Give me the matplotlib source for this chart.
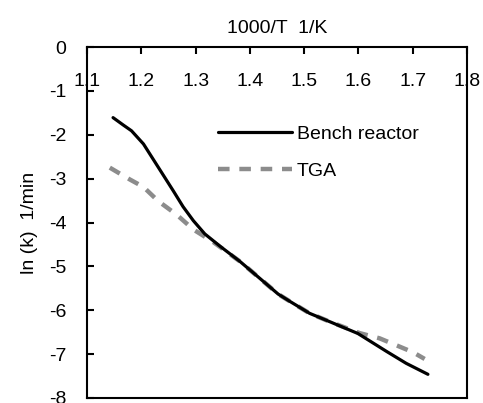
import matplotlib.pyplot as plt

plt.rcParams["font.family"] = ["Liberation Sans", "DejaVu Sans"]

# Arrhenius data: inverse temperature vs ln of rate constant
bench_x = [1.148, 1.167, 1.182, 1.204, 1.222, 1.240, 1.259, 1.277, 1.296,
           1.317, 1.345, 1.382, 1.418, 1.452, 1.474, 1.510, 1.547, 1.599,
           1.652, 1.688, 1.728]
bench_y = [-1.61, -1.78, -1.91, -2.21, -2.56, -2.91, -3.28, -3.64, -3.96,
           -4.26, -4.54, -4.89, -5.27, -5.63, -5.80, -6.07, -6.26, -6.53,
           -6.94, -7.21, -7.46]

tga_x = [1.142, 1.179, 1.204, 1.231, 1.265, 1.296, 1.332, 1.382, 1.418,
         1.452, 1.474, 1.510, 1.547, 1.602, 1.639, 1.676, 1.701, 1.722]
tga_y = [-2.75, -3.02, -3.19, -3.51, -3.82, -4.16, -4.44, -4.89, -5.27,
         -5.63, -5.80, -6.07, -6.26, -6.52, -6.64, -6.83, -6.96, -7.11]

x_ticks = [1.1, 1.2, 1.3, 1.4, 1.5, 1.6, 1.7, 1.8]
y_ticks = [0, -1, -2, -3, -4, -5, -6, -7, -8]

fs = 14

fig = plt.figure(figsize=(4.83, 4.03), dpi=100)
ax = fig.add_axes([87 / 483, 1 - 398 / 403, 380 / 483, 351 / 403])

ax.plot(tga_x, tga_y, color="#8c8c8c", lw=3.2, dashes=(2.6, 2.2), label="TGA")
ax.plot(bench_x, bench_y, color="black", lw=2.3, solid_joinstyle="round",
        solid_capstyle="round", label="Bench reactor")

ax.set_xlim(1.1, 1.8)
ax.set_ylim(-8, 0)
ax.set_xticks(x_ticks)
ax.set_xticklabels([f"{v:g}" for v in x_ticks])
ax.set_yticks(y_ticks)
ax.set_yticklabels([f"{v:g}" for v in y_ticks])

ax.xaxis.tick_top()
ax.xaxis.set_label_position("top")
ax.tick_params(axis="x", direction="in", length=5, width=1.5, pad=-31,
               labelsize=fs)
ax.tick_params(axis="y", direction="in", length=5, width=1.5, pad=15,
               labelsize=fs)
for s in ax.spines.values():
    s.set_linewidth(1.5)

ax.set_xlabel("1000/T  1/K", fontsize=fs, labelpad=10)
ax.set_ylabel("ln (k)  1/min", fontsize=fs, labelpad=8)

handles, labels = ax.get_legend_handles_labels()
ax.legend(handles[::-1], labels[::-1], loc="upper left",
          bbox_to_anchor=(0.345, 0.776), frameon=False, fontsize=fs,
          handlelength=3.8, handletextpad=0.25, labelspacing=1.0,
          borderpad=0, borderaxespad=0)

fig.savefig("out.png", dpi=100)
